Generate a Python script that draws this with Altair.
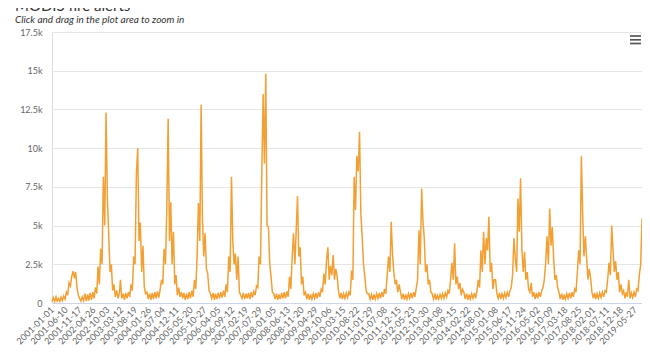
import altair as alt
import pandas as pd

TITLE = "MODIS fire alerts"
SUBTITLE = "Click and drag in the plot area to zoom in"

x_tick_labels = [
    "2001-01-01", "2001-06-10", "2001-11-17", "2002-04-26", "2002-10-03", "2003-03-12",
    "2003-08-19", "2004-01-26", "2004-07-04", "2004-12-11", "2005-05-20", "2005-10-27",
    "2006-04-05", "2006-09-12", "2007-02-19", "2007-07-29", "2008-01-05", "2008-06-13",
    "2008-11-20", "2009-04-29", "2009-10-06", "2010-03-15", "2010-08-22", "2011-01-29",
    "2011-07-08", "2011-12-15", "2012-05-23", "2012-10-30", "2013-04-08", "2013-09-15",
    "2014-02-22", "2014-08-01", "2015-01-08", "2015-06-17", "2015-11-24", "2016-05-02",
    "2016-10-09", "2017-03-18", "2017-08-25", "2018-02-01", "2018-07-11", "2018-12-18",
    "2019-05-27",
]
y_ticks = [0, 2500, 5000, 7500, 10000, 12500, 15000, 17500]

# semi-monthly readings (1st and 16th of each month)
alerts_2001 = [80, 350, 100, 400, 120, 300, 100, 380, 150, 450, 250, 700, 500, 1300, 1100, 1700, 2050, 1600, 2000, 1000, 500, 300, 120, 400]
alerts_2002 = [150, 600, 120, 550, 150, 650, 200, 700, 300, 1000, 600, 2350, 1200, 3500, 2500, 8150, 5000, 12300, 6900, 4500, 2000, 2500, 800, 1200]
alerts_2003 = [400, 800, 300, 600, 1500, 300, 600, 200, 650, 300, 700, 400, 1200, 800, 3000, 2500, 8400, 10000, 4000, 5200, 2000, 3700, 1000, 600]
alerts_2004 = [700, 250, 600, 200, 650, 250, 700, 300, 750, 350, 900, 1500, 1200, 3500, 2500, 6000, 11900, 4000, 6500, 2500, 4600, 1200, 1800, 500]
alerts_2005 = [1000, 400, 700, 300, 650, 200, 600, 250, 700, 300, 800, 400, 1500, 900, 3000, 6450, 4000, 12800, 5500, 3000, 4500, 2200, 1900, 800]
alerts_2006 = [600, 300, 650, 200, 600, 250, 650, 300, 700, 350, 800, 400, 1200, 700, 3000, 2000, 8150, 4000, 2500, 3200, 1500, 3000, 700, 500]
alerts_2007 = [300, 650, 250, 600, 300, 650, 250, 700, 350, 750, 500, 1100, 1000, 3000, 2500, 8200, 13500, 9000, 14800, 5000, 4900, 2500, 1700, 700]
alerts_2008 = [600, 250, 600, 200, 550, 250, 650, 300, 700, 300, 750, 400, 1700, 900, 3000, 4500, 2500, 4700, 6900, 3000, 3600, 1200, 1700, 500]
alerts_2009 = [700, 250, 600, 200, 550, 250, 600, 300, 650, 300, 700, 400, 900, 700, 1900, 1200, 2800, 3600, 1500, 2400, 1800, 3100, 1500, 2200]
alerts_2010 = [1700, 800, 300, 650, 250, 600, 300, 650, 350, 700, 500, 2100, 1500, 8150, 6000, 9500, 8500, 11060, 5800, 4300, 2500, 1700, 800, 600]
alerts_2011 = [600, 250, 550, 200, 550, 250, 600, 300, 650, 300, 700, 400, 900, 600, 1800, 3000, 2000, 5250, 3200, 2000, 1200, 1500, 700, 1200]
alerts_2012 = [700, 250, 600, 200, 550, 250, 600, 300, 650, 300, 700, 400, 1000, 1500, 4700, 2500, 7400, 5300, 4200, 2000, 2500, 1200, 1500, 700]
alerts_2013 = [600, 250, 550, 200, 500, 250, 550, 300, 600, 300, 650, 400, 800, 600, 1500, 2600, 1500, 3850, 1200, 1700, 900, 1300, 500, 900]
alerts_2014 = [700, 250, 600, 200, 550, 250, 600, 300, 650, 300, 800, 1500, 1000, 3400, 2000, 4600, 2500, 4200, 3400, 5570, 2000, 2600, 900, 1500]
alerts_2015 = [1500, 600, 300, 650, 250, 600, 300, 650, 350, 700, 400, 800, 1000, 1800, 4200, 2900, 2000, 6750, 4600, 8050, 3400, 2000, 3300, 1500]
alerts_2016 = [2000, 900, 700, 1300, 400, 700, 250, 650, 300, 700, 400, 800, 1000, 1500, 2600, 4300, 2500, 6100, 3700, 4900, 2800, 1500, 1800, 1000]
alerts_2017 = [700, 250, 600, 200, 550, 250, 600, 300, 650, 300, 700, 400, 900, 700, 2000, 3400, 2500, 9500, 5800, 3000, 4300, 2900, 1500, 2200]
alerts_2018 = [1600, 700, 300, 650, 250, 600, 300, 650, 350, 700, 400, 800, 700, 1500, 2600, 1800, 5000, 3400, 2000, 2700, 1500, 2000, 700, 1200]
alerts_2019 = [600, 800, 300, 700, 400, 1500, 300, 650, 350, 700, 400, 900, 800, 1800, 2500, 5450]

series = {
    2001: alerts_2001, 2002: alerts_2002, 2003: alerts_2003, 2004: alerts_2004,
    2005: alerts_2005, 2006: alerts_2006, 2007: alerts_2007, 2008: alerts_2008,
    2009: alerts_2009, 2010: alerts_2010, 2011: alerts_2011, 2012: alerts_2012,
    2013: alerts_2013, 2014: alerts_2014, 2015: alerts_2015, 2016: alerts_2016,
    2017: alerts_2017, 2018: alerts_2018, 2019: alerts_2019,
}

rows = []
for year, vals in series.items():
    for i, v in enumerate(vals):
        month = i // 2 + 1
        day = 1 if i % 2 == 0 else 16
        rows.append({"date": f"{year}-{month:02d}-{day:02d}", "alerts": v})
df = pd.DataFrame(rows)


def ms(s):
    return int(pd.Timestamp(s, tz="UTC").timestamp() * 1000)


tick_ms = [ms(s) for s in x_tick_labels]
x_domain = [ms(df["date"].iloc[0]), ms(df["date"].iloc[-1])]

FONT = "Lato"
LABEL = "#666666"

line = alt.Chart(df).mark_line(color="#f2a033", strokeWidth=1.5).encode(
    x=alt.X(
        "date:T",
        scale=alt.Scale(type="utc", domain=x_domain, nice=False),
        axis=alt.Axis(
            values=tick_ms, labelExpr="utcFormat(datum.value, '%Y-%m-%d')",
            labelAngle=-45, labelAlign="right", labelBaseline="middle", labelOverlap=False,
            ticks=False, grid=False, domainColor="#ccd6eb", labelColor=LABEL,
            labelFontSize=9, labelPadding=5, labelFont=FONT, title=None,
        ),
    ),
    y=alt.Y(
        "alerts:Q",
        scale=alt.Scale(domain=[0, 17500], nice=False),
        axis=alt.Axis(
            values=y_ticks,
            labelExpr="datum.value == 0 ? '0' : (datum.value / 1000) + 'k'",
            grid=True, gridColor="#e6e6e6", domain=False, ticks=False,
            labelColor=LABEL, labelFontSize=9, labelPadding=10, labelFont=FONT, title=None,
        ),
    ),
)

one = alt.Data(values=[{}])
title = alt.Chart(one).mark_text(
    text=TITLE, align="left", baseline="alphabetic", fontSize=15, font=FONT, color="#333333"
).encode(x=alt.value(-37), y=alt.value(-21))
subtitle = alt.Chart(one).mark_text(
    text=SUBTITLE, align="left", baseline="alphabetic", fontSize=10, font=FONT,
    fontStyle="italic", color="#333333"
).encode(x=alt.value(-37), y=alt.value(-9))

menu = [
    alt.Chart(one).mark_rule(color="#555555", strokeWidth=1.7).encode(
        x=alt.value(578), x2=alt.value(589), y=alt.value(yy)
    )
    for yy in (4, 7.8, 11.5)
]

chart = alt.layer(line, title, subtitle, *menu).properties(
    width=590, height=271,
    autosize=alt.AutoSizeParams(type="none"),
    padding={"left": 44, "top": 24, "right": 0, "bottom": 46},
    background="white",
).configure_view(stroke=None).configure(font=FONT)

chart.save("out.html", embed_options={"renderer": "svg", "actions": False})
